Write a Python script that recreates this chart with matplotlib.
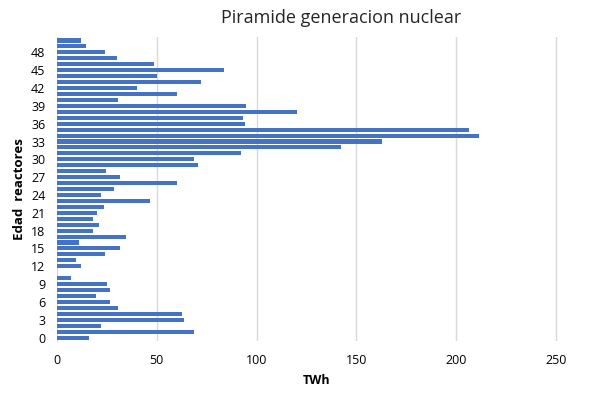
import matplotlib.pyplot as plt

# edad del reactor (años) y generacion (TWh)
edad = list(range(0, 51))
twh = [16.2, 68.7, 22.2, 63.7, 62.7, 30.7, 26.7, 19.7, 26.7, 25.2,
       7.2, 0, 12.2, 9.7, 24.2, 31.7, 11.2, 34.7, 18.2, 21.2,
       18.2, 20.2, 23.7, 46.7, 22.2, 28.7, 60.2, 31.7, 24.7, 70.7,
       68.7, 92.2, 142.2, 162.7, 211.2, 206.2, 94.2, 93.2, 120.2, 94.7,
       30.7, 60.2, 40.2, 72.2, 50.2, 83.7, 48.7, 30.2, 24.2, 14.7,
       12.2]
yticks = list(range(0, 49, 3))
xticks = [0, 50, 100, 150, 200, 250]

plt.rcParams['font.family'] = ['Open Sans', 'DejaVu Sans']

fig = plt.figure(figsize=(5.96, 3.93), dpi=100)
ax = fig.add_axes([0.095, 0.132, 0.872, 0.774])

ax.barh(edad, twh, height=0.68, color='#4472C4', zorder=3)

ax.set_xlim(0, 260)
ax.set_ylim(-0.6, 50.6)
ax.set_xticks(xticks)
ax.set_yticks(yticks)
ax.tick_params(axis='both', length=0, labelsize=9, colors='#000000')
ax.tick_params(axis='x', pad=9)
ax.tick_params(axis='y', pad=8)
ax.grid(axis='x', color='#d9d9d9', linewidth=1, zorder=0)
for s in ['top', 'right', 'bottom']:
    ax.spines[s].set_visible(False)
ax.spines['left'].set_color('#d9d9d9')

ax.set_xlabel('TWh', fontsize=9, fontweight='bold', labelpad=5)
ax.set_ylabel('Edad  reactores', fontsize=9.5, fontweight='bold', labelpad=4)
fig.text(0.573, 0.953, 'Piramide generacion nuclear', fontsize=13,
         color='#262626', ha='center', va='center')

fig.savefig('out.png', dpi=100)
